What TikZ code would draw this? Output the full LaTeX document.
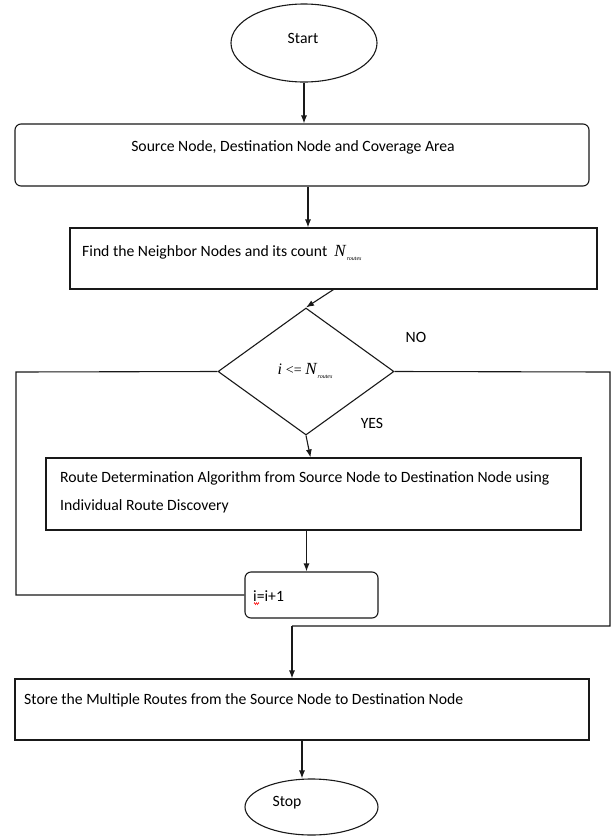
\documentclass[tikz,border=0pt]{standalone}
\usepackage{fontspec}
\setmainfont{Carlito}
\newfontfamily\tnr{Liberation Serif}
\usetikzlibrary{shapes.geometric,arrows.meta,decorations.pathmorphing}
% N with a tiny "routes" subscript, as typeset by an equation editor
\newcommand\Nroutes{{\tnr\itshape\fontsize{17}{17}\selectfont N}\kern1pt\raisebox{-4pt}{\tnr\itshape\fontsize{6}{6}\selectfont routes}}
\begin{document}
\begin{tikzpicture}[x=1pt,y=-1pt,
  every node/.style={font=\fontsize{15.7}{18}\selectfont, text=black},
  line/.style={draw=black!90, line width=1.1pt},
  arr/.style={line, -{Latex[length=8pt,width=6pt]}},
  oval/.style={line, ellipse, inner sep=0pt},
  stepbox/.style={line, rectangle, inner sep=0pt},
  roundbox/.style={line, rectangle, rounded corners=6pt, inner sep=0pt},
  decision/.style={line, diamond, inner sep=0pt},
  txt/.style={inner sep=0pt, anchor=west}]
\useasboundingbox (0,0) rectangle (613,836);

% terminals and process boxes
\node[oval, minimum width=146pt, minimum height=78pt] (start) at (304,43) {};
\node[inner sep=0pt] (startT) at (303,38) {Start};

\node[roundbox, minimum width=574pt, minimum height=62pt] (box1) at (302,155) {};
\node[inner sep=0pt] (box1T) at (293,147) {Source Node, Destination Node and Coverage Area};

\node[stepbox, minimum width=527pt, minimum height=61pt] (box2) at (333.5,258.5) {};
\node[txt] (box2T) at (82,253) {Find the Neighbor Nodes and its count \ \Nroutes};

\node[decision, minimum width=176pt, minimum height=127pt] (dia) at (306,371.5) {};
\node[inner sep=0pt] (diaT) at (305,371) {{\tnr\fontsize{16}{16}\selectfont\itshape i \upshape\fontsize{14}{14}\selectfont<=} \Nroutes};
\node[inner sep=0pt] (no) at (416,337) {NO};
\node[inner sep=0pt] (yes) at (372,423) {YES};

\node[stepbox, minimum width=535pt, minimum height=72pt] (box3) at (313.5,494) {};
\node[txt, align=left, font=\fontsize{15.7}{28}\selectfont] (box3T) at (60,492)
  {Route Determination Algorithm from Source Node to Destination Node using\\Individual Route Discovery};

\node[roundbox, minimum width=133pt, minimum height=46pt] (inc) at (311.5,595) {};
\node[txt] (incT) at (253,596) {i=i+1};
\draw[red, line width=0.5pt, decorate, decoration={zigzag, amplitude=1pt, segment length=2pt}]
  (incT.south west) ++(1,2) coordinate (sq1) -- ++(5,0) coordinate (sq2);

\node[stepbox, minimum width=574pt, minimum height=61pt] (box4) at (302,709.5) {};
\node[txt] (box4T) at (24,700) {Store the Multiple Routes from the Source Node to Destination Node};

\node[oval, minimum width=133pt, minimum height=56pt] (stop) at (311.5,807) {};
\node[inner sep=0pt] (stopT) at (287,803) {Stop};

% loop and exit corners
\coordinate (loopL) at (16,372);
\coordinate (exitR) at (610,372);
\coordinate (exitB) at (610,626);
\coordinate (exitC) at (292,626);

% connectors
\draw[arr] (start.south) -- (start.south |- box1.north);
\draw[arr] ([xshift=6pt]box1.south) -- ([xshift=6pt]box1.south |- box2.north);
\draw[arr] (box2.south) -- (dia.north);
\draw[arr] (dia.south) -- ([xshift=-3pt]box3.north);
\draw[arr] ([xshift=-7pt]box3.south) -- ([xshift=-5pt]inc.north);
\draw[line] (inc.west) -| (loopL) -- (dia.west);
\draw[line] (dia.east) -- (exitR) -- (exitB) -- (exitC);
\draw[arr] (exitC) -- (exitC |- box4.north);
\draw[arr] (box4.south) -- (box4.south |- stop.north);
\end{tikzpicture}
\end{document}
